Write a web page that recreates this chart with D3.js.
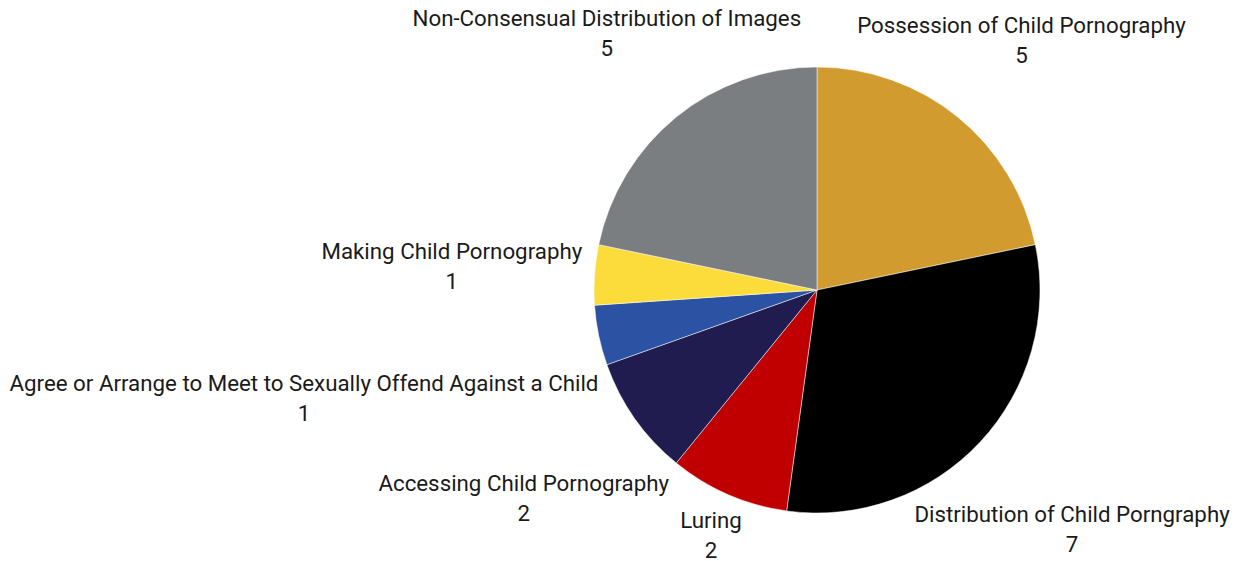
<!DOCTYPE html>
<html>
<head>
<meta charset="utf-8">
<script src="https://cdn.jsdelivr.net/npm/d3@7"></script>
<style>
  body { margin: 0; background: #fff; }
  .lbl { font-family: Roboto, "Noto Sans", sans-serif; font-size: 22.3px; fill: #1a1a1a; }
</style>
</head>
<body>
<script>
// offence categories, clockwise from 12 o'clock
var categories = [
	"Possession of Child Pornography",
	"Distribution of Child Porngraphy",
	"Luring",
	"Accessing Child Pornography",
	"Agree or Arrange to Meet to Sexually Offend Against a Child",
	"Making Child Pornography",
	"Non-Consensual Distribution of Images"
];
var counts = [5, 7, 2, 2, 1, 1, 5];
var colours = ["#d29b30", "#000000", "#c00000", "#201c4f", "#2b52a3", "#fcdc3a", "#7b7e81"];

window.onload = drawPie;

function drawPie(){
	var width = 1239,
		height = 561,
		cx = 817,
		cy = 290,
		radius = 223;

	// how far out each label sits along its slice's middle angle
	var labelDist = [324, 349, 266, 359, 524, 366, 333];

	var svg = d3.select("body")
		.append("svg")
		.attr("width", width)
		.attr("height", height);

	var g = svg.append("g")
		.attr("transform", "translate(" + cx + "," + cy + ")");

	var data = categories.map(function(c, i){
		return { name: c, value: counts[i], colour: colours[i] };
	});

	var pie = d3.pie()
		.sort(null)
		.value(function(d){ return d.value; });

	var arc = d3.arc()
		.innerRadius(0)
		.outerRadius(radius);

	var arcs = pie(data);

	g.selectAll(".slice")
		.data(arcs)
		.enter()
		.append("path")
		.attr("class", "slice")
		.attr("d", arc)
		.attr("fill", function(d){ return d.data.colour; })
		.attr("stroke", "#ffffff")
		.attr("stroke-width", 0.5);

	// labels: name on first line, count on second
	var labels = g.selectAll(".lbl")
		.data(arcs)
		.enter()
		.append("text")
		.attr("class", "lbl")
		.attr("text-anchor", "middle")
		.attr("transform", function(d, i){
			var a = (d.startAngle + d.endAngle) / 2;
			var r = labelDist[i];
			return "translate(" + (r * Math.sin(a)) + "," + (-r * Math.cos(a)) + ")";
		});

	labels.append("tspan")
		.attr("x", 0)
		.attr("y", -12)
		.attr("dominant-baseline", "middle")
		.text(function(d){ return d.data.name; });

	labels.append("tspan")
		.attr("x", 0)
		.attr("y", 18)
		.attr("dominant-baseline", "middle")
		.text(function(d){ return d.data.value; });
}
</script>
</body>
</html>
